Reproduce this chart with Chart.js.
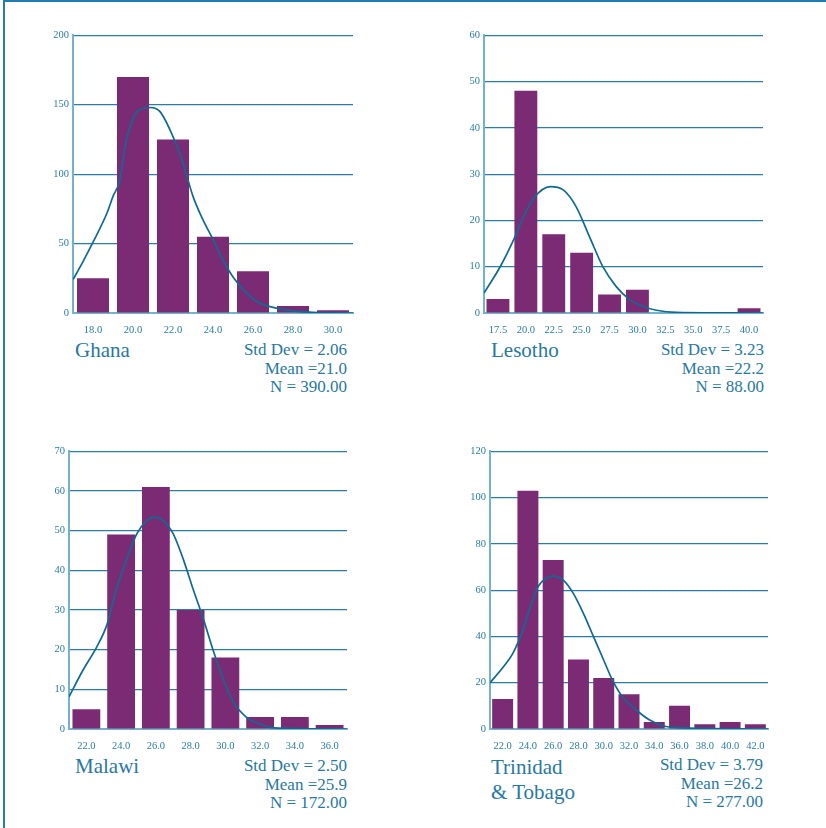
<!DOCTYPE html>
<html>
<head>
<meta charset="utf-8">
<script src="https://cdn.jsdelivr.net/npm/chart.js@4"></script>
<style>
  html, body { margin: 0; padding: 0; background: #fff; }
  body { width: 826px; height: 828px; position: relative; overflow: hidden;
         font-family: "Liberation Serif", "DejaVu Serif", serif; color: #2878a0; }
  #frame { position: absolute; left: 3px; top: 0; width: 830px; height: 840px;
           border-left: 2px solid #1f7db3; border-top: 2px solid #1f7db3; }
  canvas { position: absolute; }
  .name { position: absolute; font-size: 21px; line-height: 25px; white-space: nowrap; }
  .stats { position: absolute; width: 220px; text-align: right; font-size: 17px;
           line-height: 18.5px; white-space: nowrap; }
</style>
</head>
<body>
<div id="frame"></div>

<canvas id="ghana"></canvas>
<canvas id="lesotho"></canvas>
<canvas id="malawi"></canvas>
<canvas id="trinidad"></canvas>

<div class="name" style="left:75px; top:338px;">Ghana</div>
<div class="stats" style="left:127px; top:341px;">Std Dev = 2.06<br>Mean =21.0<br>N = 390.00</div>

<div class="name" style="left:491px; top:338px;">Lesotho</div>
<div class="stats" style="left:544px; top:341px;">Std Dev = 3.23<br>Mean =22.2<br>N = 88.00</div>

<div class="name" style="left:75px; top:754px;">Malawi</div>
<div class="stats" style="left:127px; top:757px;">Std Dev = 2.50<br>Mean =25.9<br>N = 172.00</div>

<div class="name" style="left:491px; top:755px;">Trinidad<br>&amp; Tobago</div>
<div class="stats" style="left:543px; top:756px;">Std Dev = 3.79<br>Mean =26.2<br>N = 277.00</div>

<script>
// ---- data ----
const ghanaBins = [18, 20, 22, 24, 26, 28, 30];
const ghanaCounts = [25, 170, 125, 55, 30, 5, 2];
const ghanaYTicks = [0, 50, 100, 150, 200];
const ghanaCurveX = [17, 17.5, 18, 18.7, 19.0, 19.35, 19.6, 19.85, 20.2, 20.85, 21.35, 22.0, 22.5, 23.0, 23.5, 24.0, 24.5, 25.0, 25.7, 26.35, 27, 28, 29, 31];
const ghanaCurveY = [24, 37, 51, 72, 84, 96, 120, 134, 145, 148, 145, 127, 108, 84, 67, 53, 38, 26, 14, 7, 4, 1.5, 0.5, 0];

const lesothoBins = [17.5, 20, 22.5, 25, 27.5, 30, 32.5, 35, 37.5, 40];
const lesothoCounts = [3, 48, 17, 13, 4, 5, 0, 0, 0, 1];
const lesothoYTicks = [0, 10, 20, 30, 40, 50, 60];
const lesothoCurveX = [16.25, 17.7, 18.9, 19.8, 20.7, 22.2, 23.35, 24.5, 25.7, 26.9, 28.1, 29.3, 30.5, 31.7, 33.5, 41.25];
const lesothoCurveY = [4.3, 10, 15.8, 20.8, 24.8, 27.3, 26.6, 23, 16.5, 10, 5.7, 2.9, 1.4, 0.6, 0.15, 0];

const malawiBins = [22, 24, 26, 28, 30, 32, 34, 36];
const malawiCounts = [5, 49, 61, 30, 18, 3, 3, 1];
const malawiYTicks = [0, 10, 20, 30, 40, 50, 60, 70];
const malawiCurveX = [21.0, 21.8, 22.6, 23.2, 23.7, 24.3, 24.9, 25.5, 25.9, 26.4, 27.0, 27.6, 28.1, 28.7, 29.3, 29.9, 30.4, 31.2, 32.0, 32.8, 37];
const malawiCurveY = [8.1, 14.8, 20.7, 26.5, 34.9, 42.5, 49.2, 52.6, 53.4, 52.6, 49.2, 42.5, 35.8, 28.2, 19.8, 12.3, 7.2, 3, 1.2, 0.3, 0];

const trinidadBins = [22, 24, 26, 28, 30, 32, 34, 36, 38, 40, 42];
const trinidadCounts = [13, 103, 73, 30, 22, 15, 3, 10, 2, 3, 2];
const trinidadYTicks = [0, 20, 40, 60, 80, 100, 120];
const trinidadCurveX = [21.0, 22.05, 22.8, 23.5, 24.2, 24.8, 25.5, 26.0, 26.8, 27.6, 28.4, 29.2, 30.0, 30.7, 31.5, 32.6, 33.6, 34.7, 35.8, 43];
const trinidadCurveY = [20, 26.8, 32.6, 41.2, 52.7, 61.4, 65.4, 66.1, 64.3, 58.5, 49.9, 39.8, 29.7, 21, 13.8, 8.1, 4, 1.4, 0.6, 0];

// ---- styles ----
const BAR = '#7b2b74';
const GRID = '#2a7ea3';
const AXIS = '#72b2cc';
const CURVE = '#0f6a93';
const TEXT = '#2a7ca4';
const tickFont = { family: '"Liberation Serif", serif', size: 10.5 };

function histogram(id, box, bins, counts, yTicks, curveX, curveY, xMin, xMax, barPct) {
  const cv = document.getElementById(id);
  const w = box.right - box.axisX + 50, h = box.zeroY - box.topY + 34;
  cv.width = w; cv.height = h;
  cv.style.left = (box.axisX - 40) + 'px';
  cv.style.top = (box.topY - 10) + 'px';
  cv.style.width = w + 'px'; cv.style.height = h + 'px';

  new Chart(cv, {
    type: 'bar',
    data: {
      datasets: [
        {
          type: 'line',
          data: curveX.map((x, i) => ({ x: x, y: curveY[i] })),
          borderColor: CURVE,
          borderWidth: 1.7,
          pointRadius: 0,
          cubicInterpolationMode: 'monotone',
          fill: false,
          order: 0
        },
        {
          data: bins.map((x, i) => ({ x: x, y: counts[i] })),
          backgroundColor: BAR,
          borderWidth: 0,
          barPercentage: barPct,
          categoryPercentage: 1.0,
          order: 1
        }
      ]
    },
    options: {
      responsive: false,
      animation: false,
      layout: { padding: { top: 10, right: 10, left: 0, bottom: 0 } },
      plugins: { legend: { display: false }, tooltip: { enabled: false } },
      scales: {
        x: {
          type: 'linear',
          min: xMin, max: xMax,
          offset: false,
          afterBuildTicks: s => { s.ticks = bins.map(v => ({ value: v })); },
          afterFit: s => { s.height = 24; },
          grid: { display: false },
          border: { display: true, color: AXIS, width: 2 },
          ticks: { color: TEXT, font: tickFont, padding: 3, maxRotation: 0, autoSkip: false,
                   callback: v => Number(v).toFixed(1) }
        },
        y: {
          min: 0, max: yTicks[yTicks.length - 1],
          afterBuildTicks: s => { s.ticks = yTicks.map(v => ({ value: v })); },
          afterFit: s => { s.width = 40; },
          grid: { color: GRID, lineWidth: 1.2, drawTicks: false },
          border: { display: true, color: AXIS, width: 2 },
          ticks: { color: TEXT, font: tickFont, padding: 4 }
        }
      }
    }
  });
}

histogram('ghana', { axisX: 73, topY: 35, zeroY: 313, right: 353 },
  ghanaBins, ghanaCounts, ghanaYTicks, ghanaCurveX, ghanaCurveY, 17, 31, 0.8);
histogram('lesotho', { axisX: 484, topY: 35, zeroY: 313, right: 763 },
  lesothoBins, lesothoCounts, lesothoYTicks, lesothoCurveX, lesothoCurveY, 16.25, 41.25, 0.82);
histogram('malawi', { axisX: 69, topY: 451, zeroY: 729, right: 347 },
  malawiBins, malawiCounts, malawiYTicks, malawiCurveX, malawiCurveY, 21, 37, 0.8);
histogram('trinidad', { axisX: 490, topY: 451, zeroY: 729, right: 768 },
  trinidadBins, trinidadCounts, trinidadYTicks, trinidadCurveX, trinidadCurveY, 21, 43, 0.83);
</script>
</body>
</html>
